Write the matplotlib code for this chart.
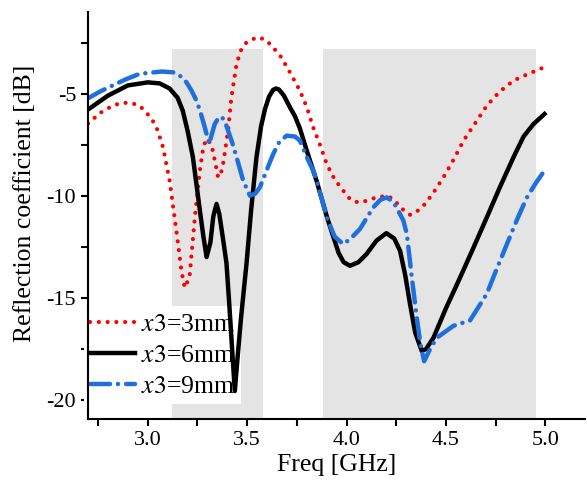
import numpy as np
import matplotlib
matplotlib.use("Agg")
import matplotlib.pyplot as plt
from matplotlib import font_manager

# --- données ---
freq_6 = [2.70, 2.80, 2.90, 3.00, 3.06, 3.11, 3.15, 3.176, 3.20, 3.227, 3.262, 3.28, 3.296, 3.315,
          3.33, 3.346, 3.36, 3.38, 3.396, 3.41, 3.425, 3.438, 3.452, 3.47, 3.497, 3.52, 3.547, 3.57,
          3.59, 3.61, 3.63, 3.645, 3.66, 3.685, 3.715, 3.74, 3.765, 3.80, 3.85, 3.90, 3.933, 3.96,
          3.985, 4.017, 4.06, 4.10, 4.15, 4.20, 4.24, 4.269, 4.295, 4.319, 4.345, 4.378, 4.40, 4.437,
          4.50, 4.571, 4.64, 4.705, 4.77, 4.84, 4.89, 4.94, 4.995]
s11_6 = [-5.78, -5.1, -4.6, -4.45, -4.5, -4.75, -5.2, -5.83, -6.8, -8.1, -10.7, -12.0, -13.0, -12.3,
         -11.0, -10.4, -10.9, -12.2, -13.3, -15.3, -17.6, -19.56, -17.9, -15.9, -13.3, -10.7, -8.1, -6.6,
         -5.75, -5.15, -4.82, -4.75, -4.8, -5.1, -5.67, -6.1, -6.7, -7.8, -9.3, -11.0, -12.0, -12.8,
         -13.25, -13.43, -13.25, -12.86, -12.2, -11.83, -12.1, -12.7, -13.9, -15.3, -16.7, -17.6, -17.5, -16.95,
         -15.5, -14.0, -12.5, -11.06, -9.6, -8.1, -7.1, -6.49, -6.0]

freq_3 = [2.70, 2.76, 2.824, 2.87, 2.918, 2.96, 2.993, 3.03, 3.05, 3.077, 3.11, 3.144, 3.17, 3.186,
          3.21, 3.237, 3.262, 3.28, 3.296, 3.32, 3.34, 3.354, 3.366, 3.379, 3.404, 3.421, 3.447, 3.47,
          3.497, 3.55, 3.59, 3.623, 3.67, 3.715, 3.765, 3.80, 3.832, 3.87, 3.90, 3.94, 3.983, 4.02,
          4.059, 4.10, 4.15, 4.205, 4.24, 4.269, 4.319, 4.35, 4.395, 4.44, 4.487, 4.54, 4.588, 4.65,
          4.705, 4.77, 4.84, 4.91, 4.974, 4.99]
s11_3 = [-6.47, -5.95, -5.59, -5.45, -5.46, -5.6, -5.92, -6.4, -6.8, -7.63, -9.26, -11.7, -13.7, -14.5,
         -14.0, -11.06, -8.77, -7.6, -7.22, -7.47, -8.4, -9.1, -9.0, -8.45, -6.8, -5.18, -3.54, -2.85,
         -2.49, -2.24, -2.35, -2.65, -3.2, -3.96, -4.85, -5.67, -6.65, -7.6, -8.45, -9.2, -9.75, -10.2,
         -10.33, -10.25, -10.08, -10.0, -10.2, -10.57, -10.93, -10.8, -10.4, -9.8, -9.1, -8.2, -7.3, -6.4,
         -5.59, -4.9, -4.36, -4.05, -3.79, -3.72]

freq_9 = [2.695, 2.76, 2.824, 2.89, 2.96, 3.01, 3.07, 3.128, 3.165, 3.195, 3.22, 3.245, 3.265, 3.287,
          3.309, 3.322, 3.337, 3.355, 3.371, 3.388, 3.404, 3.425, 3.447, 3.48, 3.514, 3.54, 3.564, 3.60,
          3.631, 3.66, 3.698, 3.74, 3.765, 3.80, 3.832, 3.85, 3.90, 3.94, 3.983, 4.02, 4.067, 4.134,
          4.17, 4.202, 4.235, 4.26, 4.285, 4.303, 4.328, 4.353, 4.372, 4.39, 4.42, 4.454, 4.537, 4.621,
          4.66, 4.705, 4.75, 4.806, 4.86, 4.907, 4.95, 4.995]
s11_9 = [-5.26, -4.9, -4.6, -4.3, -4.03, -3.98, -3.92, -3.96, -4.15, -4.45, -4.85, -5.34, -5.9, -6.65,
         -7.47, -7.0, -6.49, -6.2, -6.13, -6.35, -6.81, -7.4, -8.12, -9.26, -10.0, -9.9, -9.59, -8.7,
         -7.96, -7.4, -7.06, -7.1, -7.3, -8.12, -8.77, -9.26, -11.06, -12.0, -12.37, -12.1, -11.63, -10.57,
         -10.2, -10.08, -10.3, -10.74, -11.2, -11.88, -14.0, -15.97, -17.3, -18.1, -17.5, -16.95, -16.37, -16.1,
         -15.5, -14.8, -13.7, -12.37, -11.1, -10.08, -9.4, -8.77]

# bandes grisées (GHz)
bands = [(3.12, 3.58), (3.88, 4.95)]
band_top = -2.8

labels = [r"$\mathit{x3}$=3mm", r"$\mathit{x3}$=6mm", r"$\mathit{x3}$=9mm"]

# --- style ---
serif_names = ['Liberation Serif', 'STIXGeneral']
installed = {f.name for f in font_manager.fontManager.ttflist}
serif_names = [n for n in serif_names if n in installed] or ['DejaVu Serif']
plt.rcParams['font.family'] = serif_names
plt.rcParams['mathtext.fontset'] = 'stix'

YMIN, YMAX = -20.93, -1.0

fig = plt.figure(figsize=(5.87, 4.87), dpi=100)
ax = fig.add_axes([0.150, 0.1396, 0.847, 0.836])

for x0, x1 in bands:
    ax.fill_between([x0, x1], YMIN, band_top, color='#e4e4e4', lw=0, zorder=0)

# courbes au-dessus de la légende (comme sur l'original)
ax.plot(freq_3, s11_3, color='#ff0000', lw=3.0, linestyle=(0, (0.01, 2.1)),
        dash_capstyle='round', label=labels[0], zorder=6)
ax.plot(freq_6, s11_6, color='black', lw=3.2, label=labels[1], zorder=6)
ax.plot(freq_9, s11_9, color='#1f6fdc', lw=3.2, linestyle=(0, (4.5, 1.8, 0.01, 1.8)),
        dash_capstyle='round', label=labels[2], zorder=6)

ax.set_xlim(2.7, 5.2)
ax.set_ylim(YMIN, YMAX)
ax.set_xticks([3.0, 3.5, 4.0, 4.5, 5.0])
ax.set_xticks(np.arange(2.75, 5.2, 0.25), minor=True)
ax.set_yticks([-20, -15, -10, -5])
ax.set_yticks([-17.5, -12.5, -7.5, -2.5], minor=True)
ax.set_xticklabels(['3.0', '3.5', '4.0', '4.5', '5.0'])
ax.set_yticklabels(['-20', '-15', '-10', '-5'])

for s in ['top', 'right']:
    ax.spines[s].set_visible(False)
for s in ['left', 'bottom']:
    ax.spines[s].set_linewidth(1.5)
    ax.spines[s].set_zorder(7)
ax.tick_params(which='both', direction='out', length=5, width=1.5, labelsize=16)

ax.set_xlabel('Freq [GHz]', fontsize=18.5, labelpad=3)
ax.set_ylabel('Reflection coefficient [dB]', fontsize=18.5, labelpad=8, y=0.53)

leg = ax.legend(loc='lower left', bbox_to_anchor=(-0.009, 0.037), fontsize=18.5,
                frameon=True, fancybox=False, handlelength=1.75, handletextpad=0.22,
                labelspacing=0.31, borderpad=0.25, borderaxespad=0.0)
leg.set_zorder(5)
leg.get_frame().set_facecolor('white')
leg.get_frame().set_edgecolor('none')
leg.get_frame().set_alpha(1.0)

fig.savefig('out.png', dpi=100)
